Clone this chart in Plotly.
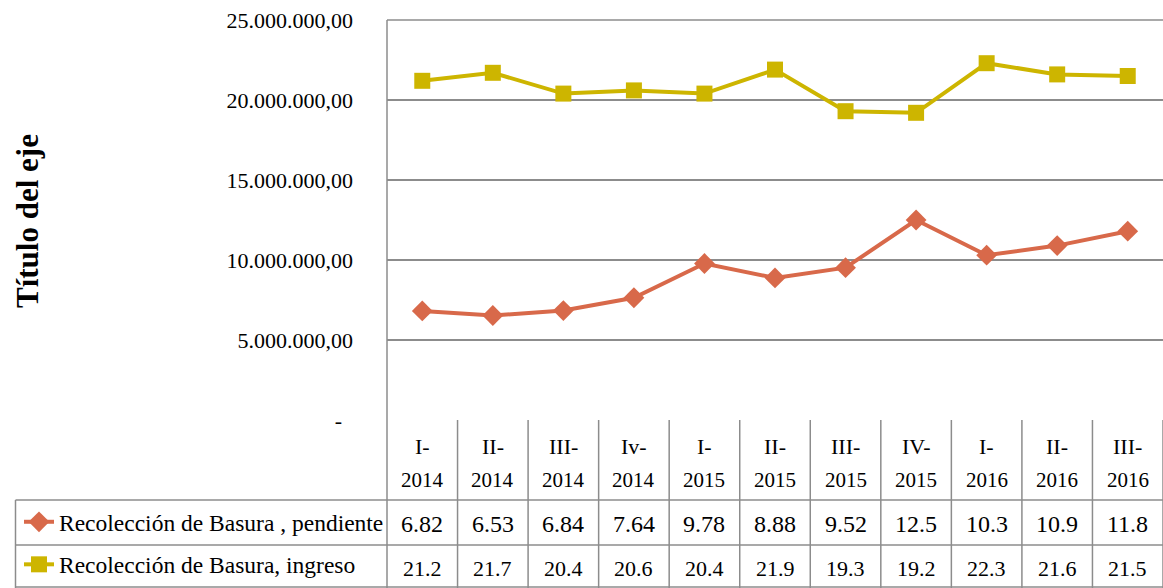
import plotly.graph_objects as go

categories = ["I-2014", "II-2014", "III-2014", "Iv-2014", "I-2015", "II-2015",
              "III-2015", "IV-2015", "I-2016", "II-2016", "III-2016"]
pendiente_mill = [6.82, 6.53, 6.84, 7.64, 9.78, 8.88, 9.52, 12.5, 10.3, 10.9, 11.8]
ingreso_mill = [21.2, 21.7, 20.4, 20.6, 20.4, 21.9, 19.3, 19.2, 22.3, 21.6, 21.5]
series_names = ["Recolección de Basura , pendiente", "Recolección de Basura, ingreso"]
y_tick_vals = [0, 5e6, 10e6, 15e6, 20e6, 25e6]
y_tick_text = ["-  ", "5.000.000,00", "10.000.000,00", "15.000.000,00",
               "20.000.000,00", "25.000.000,00"]
axis_title = "Título del eje"

ORANGE = "#D8694A"
YELLOW = "#CDB500"
GRID = "#8C8C8C"
FONT = "Liberation Serif, Times New Roman, serif"

W, H = 1163, 588
L, R, T, B = 387, 0, 20, 168
PW, PH = W - L - R, H - T - B

def py(pix):  # pixel y -> paper y
    return (H - B - pix) / PH

def px(pix):  # pixel x -> paper x
    return (pix - L) / PW

xs = list(range(len(categories)))
fig = go.Figure()
fig.add_trace(go.Scatter(
    x=xs, y=[v * 1e6 for v in pendiente_mill], name=series_names[0], legendgroup="a",
    mode="lines+markers", line=dict(color=ORANGE, width=4),
    marker=dict(symbol="diamond", size=16, color=ORANGE)))
fig.add_trace(go.Scatter(
    x=xs, y=[v * 1e6 for v in ingreso_mill], name=series_names[1], legendgroup="b",
    mode="lines+markers", line=dict(color=YELLOW, width=4),
    marker=dict(symbol="square", size=16, color=YELLOW)))

shapes = []
shapes.append(dict(type="line", xref="paper", yref="paper", x0=0, x1=0, y0=1, y1=py(H),
                   line=dict(color=GRID, width=1.5)))
for k in range(len(categories)):
    shapes.append(dict(type="line", xref="x", yref="paper", x0=k + 0.5, x1=k + 0.5,
                       y0=0, y1=py(H), line=dict(color=GRID, width=1.5)))
for yy in (500, 545, H - 1):
    shapes.append(dict(type="line", xref="paper", yref="paper", x0=px(15.5), x1=1,
                       y0=py(yy), y1=py(yy), line=dict(color=GRID, width=1.5)))
shapes.append(dict(type="line", xref="paper", yref="paper", x0=px(15.5), x1=px(15.5),
                   y0=py(500), y1=py(H), line=dict(color=GRID, width=1.5)))
shapes.append(dict(type="line", xref="paper", yref="paper", x0=0, x1=1, y0=1, y1=1,
                   line=dict(color=GRID, width=1.5)))

ann = []
def add_text(x, y, text, size, xref="x"):
    ann.append(dict(x=x, y=y, xref=xref, yref="paper", text=text, showarrow=False,
                    xanchor="center", yanchor="middle",
                    font=dict(family=FONT, size=size, color="black")))

for i, c in enumerate(categories):
    top, bot = c.split("-")
    add_text(i, py(446), top + "-", 22)
    add_text(i, py(480), bot, 21)
    add_text(i, py(524), f"{pendiente_mill[i]:g}", 24)
    add_text(i, py(568), f"{ingreso_mill[i]:g}", 22)
ann.append(dict(x=px(28), y=py(221), xref="paper", yref="paper", text="<b>" + axis_title + "</b>",
                xanchor="center", yanchor="middle",
                textangle=-90, showarrow=False, font=dict(family=FONT, size=31, color="black")))

fig.update_layout(
    width=W, height=H, margin=dict(l=L, r=R, t=T, b=B, autoexpand=False),
    paper_bgcolor="white", plot_bgcolor="white",
    font=dict(family=FONT, color="black"),
    xaxis=dict(range=[-0.5, len(categories) - 0.5], showticklabels=False, showgrid=False,
               zeroline=False, showline=False, fixedrange=True),
    yaxis=dict(range=[0, 25e6], tickvals=y_tick_vals, ticktext=y_tick_text,
               showgrid=True, gridcolor=GRID, gridwidth=1.5, zeroline=False, showline=False,
               ticks="", ticklabelstandoff=33,
               tickfont=dict(family=FONT, size=22, color="black")),
    shapes=shapes, annotations=ann,
    showlegend=True,
    legend=dict(x=px(19), y=py(500), xanchor="left", yanchor="top",
                bgcolor="rgba(0,0,0,0)", font=dict(family=FONT, size=23.5, color="black"),
                traceorder="grouped", tracegroupgap=9, itemwidth=30),
)
fig.write_html("out.html", config={"displayModeBar": False},
               post_script="document.body.style.margin='0px';document.body.style.overflow='hidden';")
